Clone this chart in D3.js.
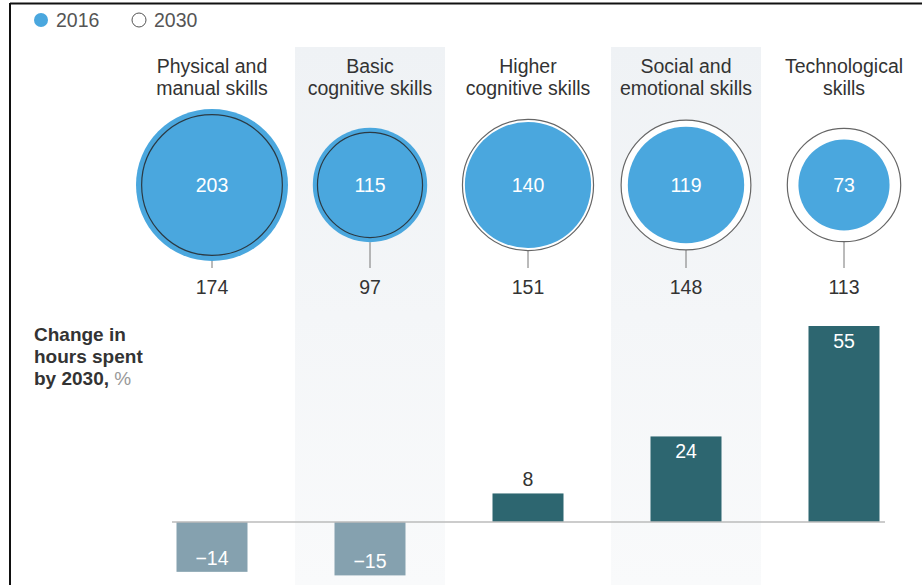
<!DOCTYPE html>
<html>
<head>
<meta charset="utf-8">
<script src="https://cdn.jsdelivr.net/npm/d3@7"></script>
<style>
  body { margin: 0; background: #fff; }
  svg { font-family: "Liberation Sans", Arial, Helvetica, sans-serif; }
</style>
</head>
<body>
<div id="chart"></div>
<script>
// data
var categories = ["Physical and manual skills", "Basic cognitive skills", "Higher cognitive skills",
                  "Social and emotional skills", "Technological skills"];
var titleLines = [["Physical and", "manual skills"], ["Basic", "cognitive skills"], ["Higher", "cognitive skills"],
                  ["Social and", "emotional skills"], ["Technological", "skills"]];
var hours2016 = [203, 115, 140, 119, 73];
var hours2030 = [174, 97, 151, 148, 113];
var changePct = [-14, -15, 8, 24, 55];

var width = 922, height = 585;
var blue = "#4aa7de";
var fs = 19.5;

var svg = d3.select("#chart").append("svg")
    .attr("width", width)
    .attr("height", height);

var defs = svg.append("defs");
var grad = defs.append("linearGradient").attr("id", "bandGrad")
    .attr("x1", 0).attr("y1", 0).attr("x2", 0).attr("y2", 1);
grad.append("stop").attr("offset", "0%").attr("stop-color", "#eff2f5");
grad.append("stop").attr("offset", "100%").attr("stop-color", "#f9fafb");

// x positions of the columns
var x = d3.scalePoint().domain(categories).range([212, 844]);
var colW = 150;

// circle sizes by area
var r = d3.scaleSqrt().domain([0, 203]).range([0, 76]);

// bar scale
var y = d3.scaleLinear().domain([-15, 55]).range([575.4, 326]);

// shaded bands for every second column
svg.selectAll("rect.band")
    .data(categories.filter(function(d, i){ return i % 2 === 1; }))
    .enter().append("rect")
    .attr("class", "band")
    .attr("x", function(d){ return x(d) - colW / 2; })
    .attr("y", 47)
    .attr("width", colW)
    .attr("height", height - 47)
    .attr("fill", "url(#bandGrad)");

// frame lines (top + left)
svg.append("line").attr("x1", 10).attr("x2", width).attr("y1", 3.5).attr("y2", 3.5)
    .attr("stroke", "#111").attr("stroke-width", 2);
svg.append("line").attr("x1", 10).attr("x2", 10).attr("y1", 3).attr("y2", height)
    .attr("stroke", "#111").attr("stroke-width", 2);

// legend
var legend = svg.append("g").attr("font-size", fs).attr("fill", "#555");
legend.append("circle").attr("cx", 41).attr("cy", 20).attr("r", 7).attr("fill", blue);
legend.append("text").attr("x", 56).attr("y", 27).text("2016");
legend.append("circle").attr("cx", 139).attr("cy", 20).attr("r", 7)
    .attr("fill", "#fff").attr("stroke", "#555").attr("stroke-width", 1);
legend.append("text").attr("x", 154).attr("y", 27).text("2030");

// column titles
var titles = svg.selectAll("text.title").data(categories).enter().append("text")
    .attr("class", "title")
    .attr("text-anchor", "middle")
    .attr("font-size", fs)
    .attr("fill", "#333");
titles.each(function(d, i){
    var t = d3.select(this);
    titleLines[i].forEach(function(line, j){
        t.append("tspan").attr("x", x(d)).attr("y", 73 + j * 22).text(line);
    });
});

// bubbles
var cy = 185;
var bub = svg.selectAll("g.bubble").data(categories).enter().append("g")
    .attr("class", "bubble")
    .attr("transform", function(d){ return "translate(" + x(d) + "," + cy + ")"; });

// leader line to the 2030 label
bub.append("line")
    .attr("x1", 0).attr("x2", 0)
    .attr("y1", function(d, i){ return Math.max(r(hours2016[i]), r(hours2030[i])); })
    .attr("y2", 268 - cy)
    .attr("stroke", "#777").attr("stroke-width", 1);

bub.append("circle")
    .attr("r", function(d, i){ return r(hours2030[i]); })
    .attr("fill", "#fff");
bub.append("circle")
    .attr("r", function(d, i){ return r(hours2016[i]); })
    .attr("fill", blue);
bub.append("circle")
    .attr("r", function(d, i){ return r(hours2030[i]); })
    .attr("fill", "none")
    .attr("stroke", function(d, i){ return hours2030[i] < hours2016[i] ? "#2b3a44" : "#666"; })
    .attr("stroke-width", 1.2);

bub.append("text")
    .attr("text-anchor", "middle")
    .attr("y", 7)
    .attr("font-size", fs)
    .attr("fill", "#fff")
    .text(function(d, i){ return hours2016[i]; });

bub.append("text")
    .attr("text-anchor", "middle")
    .attr("y", 294 - cy)
    .attr("font-size", fs)
    .attr("fill", "#333")
    .text(function(d, i){ return hours2030[i]; });

// y-side label
var yl = svg.append("text").attr("font-size", 19).attr("font-weight", "bold").attr("fill", "#333");
yl.append("tspan").attr("x", 34).attr("y", 341).text("Change in");
yl.append("tspan").attr("x", 34).attr("y", 363).text("hours spent");
yl.append("tspan").attr("x", 34).attr("y", 385).text("by 2030, ");
yl.append("tspan").attr("font-weight", "normal").attr("fill", "#999").text("%");

// bars
var barW = 71;
svg.selectAll("rect.bar").data(categories).enter().append("rect")
    .attr("class", "bar")
    .attr("x", function(d){ return x(d) - barW / 2; })
    .attr("y", function(d, i){ return y(Math.max(0, changePct[i])); })
    .attr("width", barW)
    .attr("height", function(d, i){ return Math.abs(y(changePct[i]) - y(0)); })
    .attr("fill", function(d, i){ return changePct[i] < 0 ? "#85a1af" : "#2d6670"; });

// zero line
svg.append("line")
    .attr("x1", 172).attr("x2", 885)
    .attr("y1", y(0)).attr("y2", y(0))
    .attr("stroke", "#bbb").attr("stroke-width", 1.5);

// bar labels
svg.selectAll("text.barLabel").data(categories).enter().append("text")
    .attr("class", "barLabel")
    .attr("text-anchor", "middle")
    .attr("font-size", fs)
    .attr("x", function(d){ return x(d); })
    .attr("y", function(d, i){
        var v = changePct[i];
        if (v < 0) return y(v) - 7;
        if (y(0) - y(v) < 40) return y(v) - 7;
        return y(v) + 22;
    })
    .attr("fill", function(d, i){
        var v = changePct[i];
        return (v > 0 && y(0) - y(v) < 40) ? "#333" : "#fff";
    })
    .text(function(d, i){ return changePct[i] < 0 ? "\u2212" + Math.abs(changePct[i]) : changePct[i]; });
</script>
</body>
</html>
